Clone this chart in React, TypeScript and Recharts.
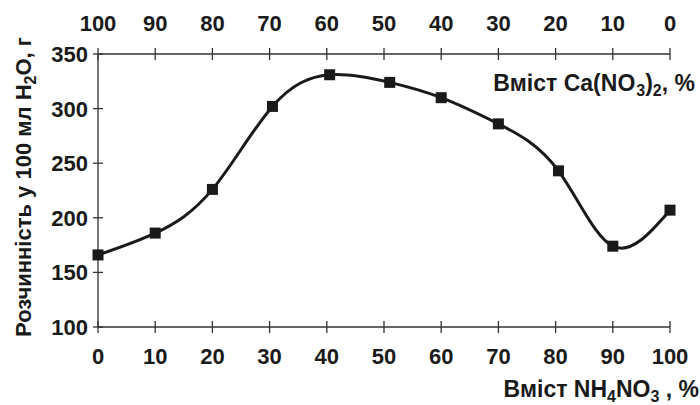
import { LineChart, Line, XAxis, YAxis, Label } from "recharts";

const nh4Content = [0, 10, 20, 30.5, 40.5, 51, 60, 70, 80.5, 90, 100];
const solubility = [166, 186, 226, 302, 331, 324, 310, 286, 243, 174, 207];

const bottomTicks = [0, 10, 20, 30, 40, 50, 60, 70, 80, 90, 100];
const topTickLabels = ["100", "90", "80", "70", "60", "50", "40", "30", "20", "10", "0"];
const yTicks = [100, 150, 200, 250, 300, 350];

const data = nh4Content.map((x, i) => ({ x, s: solubility[i] }));

const FONT = "'Liberation Sans', Arial, sans-serif";
const INK = "#1a1a1a";
const AXIS = "#333";

const BottomTick = (props: any) => {
  const { x, y, payload } = props;
  return (
    <g>
      <line x1={x} x2={x} y1={y - 6} y2={y + 6} stroke={AXIS} strokeWidth={1.3} />
      <text x={x} y={y + 37} textAnchor="middle" fontSize={22} fontWeight="bold" fontFamily={FONT} fill={INK}>
        {payload.value}
      </text>
    </g>
  );
};

const TopTick = (props: any) => {
  const { x, y, index } = props;
  return (
    <g>
      <line x1={x} x2={x} y1={y - 6} y2={y + 6} stroke={AXIS} strokeWidth={1.3} />
      <text x={x} y={y - 23} textAnchor="middle" fontSize={22} fontWeight="bold" fontFamily={FONT} fill={INK}>
        {topTickLabels[index]}
      </text>
    </g>
  );
};

const LeftTick = (props: any) => {
  const { x, y, payload } = props;
  return (
    <g>
      <line x1={x - 5} x2={x + 5} y1={y} y2={y} stroke={AXIS} strokeWidth={1.3} />
      <text x={x - 10} y={y + 8} textAnchor="end" fontSize={22} fontWeight="bold" fontFamily={FONT} fill={INK}>
        {payload.value}
      </text>
    </g>
  );
};

const Square = (props: any) => {
  const { cx, cy, index } = props;
  return <rect key={`sq-${index}`} x={cx - 5.5} y={cy - 5.5} width={11} height={11} fill={INK} />;
};

const BottomTitle = (props: any) => {
  const { viewBox } = props;
  const right = viewBox.x + viewBox.width + 29;
  return (
    <text x={right} y={397} textAnchor="end" fontSize={23} fontWeight="bold" fontFamily={FONT} fill={INK}>
      Вміст NH<tspan fontSize={16} dy={5}>4</tspan>
      <tspan dy={-5}>NO</tspan>
      <tspan fontSize={16} dy={5}>3</tspan>
      <tspan dy={-5}> , %</tspan>
    </text>
  );
};

const TopTitle = (props: any) => {
  const { viewBox } = props;
  const right = viewBox.x + viewBox.width + 25;
  return (
    <text x={right} y={91} textAnchor="end" fontSize={23} fontWeight="bold" fontFamily={FONT} fill={INK}>
      Вміст Ca(NO<tspan fontSize={16} dx={1} dy={5}>3</tspan>
      <tspan dy={-5}>)</tspan>
      <tspan fontSize={16} dy={5}>2</tspan>
      <tspan dy={-5}>, %</tspan>
    </text>
  );
};

const YTitle = () => (
  <text
    x={31}
    y={187}
    transform="rotate(-90 31 187)"
    textAnchor="middle"
    fontSize={22}
    fontWeight="bold"
    fontFamily={FONT}
    fill={INK}
  >
    Розчинність у 100 мл H<tspan fontSize={16} dy={5}>2</tspan>
    <tspan dy={-5}>O, г</tspan>
  </text>
);

export default function App() {
  return (
    <div style={{ position: "absolute", left: 0, top: 0, width: 700, height: 405, background: "#fff" }}>
      <LineChart width={700} height={405} data={data} margin={{ top: 0, right: 30, bottom: 0, left: 0 }}>
        <XAxis
          xAxisId="bottom"
          dataKey="x"
          type="number"
          domain={[0, 100]}
          ticks={bottomTicks}
          interval={0}
          orientation="bottom"
          height={78}
          tickSize={0}
          tickMargin={0}
          tickLine={false}
          axisLine={{ stroke: AXIS, strokeWidth: 1.3 }}
          tick={<BottomTick />}
        >
          <Label content={<BottomTitle />} />
        </XAxis>
        <XAxis
          xAxisId="top"
          dataKey="x"
          type="number"
          domain={[0, 100]}
          ticks={bottomTicks}
          interval={0}
          orientation="top"
          height={54}
          tickSize={0}
          tickMargin={0}
          tickLine={false}
          axisLine={{ stroke: AXIS, strokeWidth: 1.3 }}
          tick={<TopTick />}
        >
          <Label content={<TopTitle />} />
        </XAxis>
        <YAxis
          dataKey="s"
          type="number"
          domain={[100, 350]}
          ticks={yTicks}
          interval={0}
          width={98}
          tickSize={0}
          tickMargin={0}
          tickLine={false}
          axisLine={{ stroke: AXIS, strokeWidth: 1.3 }}
          tick={<LeftTick />}
        >
          <Label content={<YTitle />} />
        </YAxis>
        <Line
          xAxisId="top"
          dataKey="s"
          stroke="none"
          dot={false}
          activeDot={false}
          isAnimationActive={false}
        />
        <Line
          xAxisId="bottom"
          type="natural"
          dataKey="s"
          stroke={INK}
          strokeWidth={3}
          dot={<Square />}
          activeDot={false}
          isAnimationActive={false}
        />
      </LineChart>
    </div>
  );
}
